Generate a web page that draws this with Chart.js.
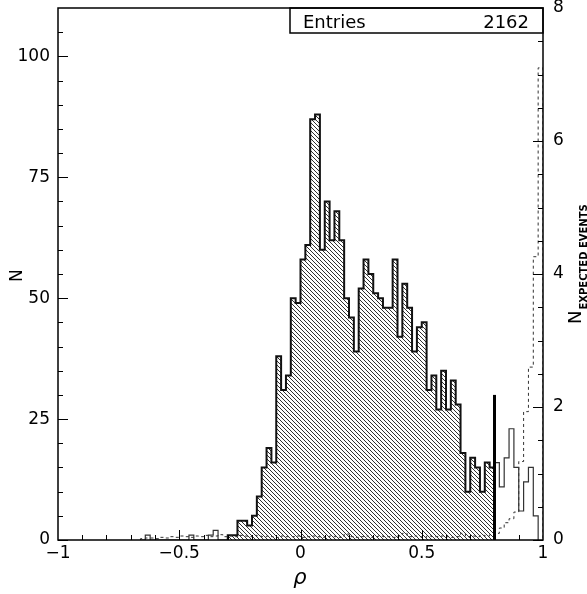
<!DOCTYPE html>
<html>
<head>
<meta charset="utf-8">
<title>rho</title>
<script src="https://cdn.jsdelivr.net/npm/chart.js@4.4.1/dist/chart.umd.min.js"></script>
<style>
  html, body { margin: 0; padding: 0; background: #fff; }
  canvas { display: block; }
</style>
</head>
<body>
<canvas id="rhoChart" width="587" height="594"></canvas>
<script>
// rho distribution: selected events (hatched), events outside the cut (open),
// expected events on the right-hand axis (dashed)

const BIN_WIDTH = 0.02;

// hatched histogram, bins from rho = -0.30 up to the cut
const selectedStart = -0.30;
const selectedCounts = [
    1, 1, 4, 4, 3, 5, 9, 15, 19, 16,
    38, 31, 34, 50, 49, 58, 61, 87, 88, 60,
    70, 62, 68, 62, 50, 46, 39, 52, 58, 55,
    51, 50, 48, 48, 58, 42, 53, 48, 39, 44,
    45, 31, 34, 27, 35, 27, 33, 28, 18, 10,
    17, 15, 10, 16, 15
];

// open histogram, low tail (rho = -0.66 .. -0.32)
const lowTailStart = -0.66;
const lowTailCounts = [0, 1, 0, 0, 0, 0, 0, 0, 0, 0, 1, 0, 0, 0, 1, 2, 0, 0];

// open histogram above the cut (rho = 0.80 .. 0.96)
const aboveCutStart = 0.80;
const aboveCutCounts = [16, 11, 17, 23, 15, 6, 12, 15, 5];

// expected events, right axis, bins from rho = -0.66 to 0.98
const expectedStart = -0.66;
const expectedEvents = [
    0.02, 0.03, 0.03, 0.02, 0.04, 0.03, 0.05, 0.04, 0.06, 0.05,
    0.04, 0.06, 0.05, 0.07, 0.05, 0.06, 0.08, 0.05,
    0.06, 0.05, 0.07, 0.06, 0.05, 0.07, 0.06, 0.05, 0.06, 0.05,
    0.04, 0.06, 0.05, 0.05, 0.06, 0.04, 0.05, 0.06, 0.05, 0.04,
    0.05, 0.06, 0.05, 0.04, 0.09, 0.05, 0.04, 0.05, 0.06, 0.04,
    0.05, 0.06, 0.05, 0.05, 0.04, 0.06, 0.10, 0.05, 0.06, 0.05,
    0.04, 0.06, 0.05, 0.05, 0.06, 0.05, 0.04, 0.05, 0.10, 0.05,
    0.06, 0.05, 0.07, 0.06, 0.08,
    0.10, 0.18, 0.26, 0.32, 0.42, 1.18, 1.93, 2.60, 4.26, 7.10
];

const cutPosition = 0.8;
const cutHeight = 30;

const xTickValues = [-1, -0.5, 0, 0.5, 1];
const leftTickValues = [0, 25, 50, 75, 100];
const rightTickValues = [0, 2, 4, 6, 8];

const FONT = "'DejaVu Sans', 'Liberation Sans', sans-serif";

// step outline: each point holds its value up to the next bin edge
function toSteps(start, values) {
    const pts = [{ x: start, y: 0 }];
    values.forEach((v, i) => pts.push({ x: +(start + i * BIN_WIDTH).toFixed(4), y: v }));
    pts.push({ x: +(start + values.length * BIN_WIDTH).toFixed(4), y: 0 });
    return pts;
}

function makeHatch() {
    const size = 4;
    const c = document.createElement('canvas');
    c.width = c.height = size;
    const g = c.getContext('2d');
    g.strokeStyle = '#1a1a1a';
    g.lineWidth = 0.9;
    for (const off of [-size, 0, size]) {
        g.beginPath();
        g.moveTo(-1, -1 + off);
        g.lineTo(size + 1, size + 1 + off);
        g.stroke();
    }
    return g.createPattern(c, 'repeat');
}

const sum = a => a.reduce((s, v) => s + v, 0);
const entries = sum(selectedCounts) + sum(lowTailCounts) + sum(aboveCutCounts);

const fmt = v => (v < 0 ? '\u2212' + Math.abs(v) : String(v));

function fixBox(w, h) {
    return scale => {
        if (w != null) scale.width = w;
        if (h != null) scale.height = h;
        scale.paddingTop = scale.paddingBottom = 0;
        scale.paddingLeft = scale.paddingRight = 0;
    };
}

// frame, inward tick marks, titles and the stats box
const framePlugin = {
    id: 'frame',
    afterDraw(chart) {
        const { ctx, chartArea: a, scales } = chart;
        ctx.save();
        ctx.strokeStyle = '#000';
        ctx.lineWidth = 1;

        const tick = (x1, y1, x2, y2) => {
            ctx.beginPath();
            ctx.moveTo(x1, y1);
            ctx.lineTo(x2, y2);
            ctx.stroke();
        };

        for (let v = 0; v < 110; v += 5) {
            const y = Math.round(scales.y.getPixelForValue(v)) + 0.5;
            tick(a.left, y, a.left + (v % 25 === 0 ? 10 : 5), y);
        }
        for (let k = 0; k < 16; k++) {
            const v = k * 0.5;
            const y = Math.round(scales.y2.getPixelForValue(v)) + 0.5;
            tick(a.right, y, a.right - (k % 4 === 0 ? 10 : 5), y);
        }
        for (let k = 1; k < 20; k++) {
            const v = -1 + k * 0.1;
            const x = Math.round(scales.x.getPixelForValue(v)) + 0.5;
            tick(x, a.bottom, x, a.bottom - (k % 5 === 0 ? 10 : 5));
        }

        ctx.lineWidth = 1.5;
        ctx.strokeRect(a.left, a.top, a.right - a.left, a.bottom - a.top);

        // stats box
        const bx = 290;
        ctx.strokeRect(bx, a.top, a.right - bx, 25);
        ctx.fillStyle = '#000';
        ctx.font = '18px ' + FONT;
        ctx.textBaseline = 'alphabetic';
        ctx.textAlign = 'left';
        ctx.fillText('Entries', 303, a.top + 20);
        ctx.textAlign = 'right';
        ctx.fillText(String(entries), 529, a.top + 20);

        // axis titles
        ctx.textAlign = 'left';
        ctx.font = '17px ' + FONT;
        ctx.save();
        ctx.translate(22, 282);
        ctx.rotate(-Math.PI / 2);
        ctx.fillText('N', 0, 0);
        ctx.restore();

        ctx.save();
        ctx.translate(581, 324);
        ctx.rotate(-Math.PI / 2);
        ctx.font = '18px ' + FONT;
        ctx.fillText('N', 0, 0);
        const wN = ctx.measureText('N').width;
        ctx.font = 'bold 10px ' + FONT;
        ctx.fillText('EXPECTED EVENTS', wN + 1, 6);
        ctx.restore();

        ctx.textAlign = 'center';
        ctx.font = 'italic 21px ' + FONT;
        ctx.fillText('\u03c1', 300, 584);
        ctx.restore();
    }
};

const ctx = document.getElementById('rhoChart');

new Chart(ctx, {
    type: 'line',
    data: {
        datasets: [
            {
                label: 'cut',
                data: [{ x: cutPosition, y: 0 }, { x: cutPosition, y: cutHeight }],
                borderColor: '#000',
                borderWidth: 3,
                pointRadius: 0,
                yAxisID: 'y',
                order: 0
            },
            {
                label: 'expected',
                data: toSteps(expectedStart, expectedEvents),
                stepped: true,
                borderColor: '#333',
                borderWidth: 1,
                borderDash: [3, 3],
                pointRadius: 0,
                fill: false,
                yAxisID: 'y2',
                order: 1
            },
            {
                label: 'low tail',
                data: toSteps(lowTailStart, lowTailCounts),
                stepped: true,
                borderColor: '#333',
                borderWidth: 1.2,
                pointRadius: 0,
                fill: false,
                yAxisID: 'y',
                order: 2
            },
            {
                label: 'above cut',
                data: toSteps(aboveCutStart, aboveCutCounts),
                stepped: true,
                borderColor: '#333',
                borderWidth: 1.2,
                pointRadius: 0,
                fill: false,
                yAxisID: 'y',
                order: 2
            },
            {
                label: 'selected',
                data: toSteps(selectedStart, selectedCounts),
                stepped: true,
                borderColor: '#111',
                borderWidth: 2,
                backgroundColor: makeHatch(),
                fill: 'origin',
                pointRadius: 0,
                yAxisID: 'y',
                order: 3
            }
        ]
    },
    options: {
        responsive: false,
        animation: false,
        devicePixelRatio: 1,
        layout: { padding: { top: 8, left: 0, right: 0, bottom: 0 } },
        plugins: {
            legend: { display: false },
            tooltip: { enabled: false }
        },
        scales: {
            x: {
                type: 'linear',
                min: -1,
                max: 1,
                grid: { display: false, drawTicks: false },
                border: { display: false },
                afterBuildTicks: s => { s.ticks = xTickValues.map(v => ({ value: v })); },
                ticks: {
                    color: '#000',
                    font: { family: FONT, size: 17 },
                    padding: 3,
                    maxRotation: 0,
                    autoSkip: false,
                    callback: v => fmt(v)
                },
                afterFit: fixBox(null, 54)
            },
            y: {
                position: 'left',
                min: 0,
                max: 110,
                grid: { display: false, drawTicks: false },
                border: { display: false },
                afterBuildTicks: s => { s.ticks = leftTickValues.map(v => ({ value: v })); },
                ticks: {
                    color: '#000',
                    font: { family: FONT, size: 17 },
                    padding: 8
                },
                afterFit: fixBox(58, null)
            },
            y2: {
                position: 'right',
                min: 0,
                max: 8,
                grid: { display: false, drawTicks: false },
                border: { display: false },
                afterBuildTicks: s => { s.ticks = rightTickValues.map(v => ({ value: v })); },
                ticks: {
                    color: '#000',
                    font: { family: FONT, size: 17 },
                    padding: 10
                },
                afterFit: fixBox(44, null)
            }
        }
    },
    plugins: [framePlugin]
});
</script>
</body>
</html>
